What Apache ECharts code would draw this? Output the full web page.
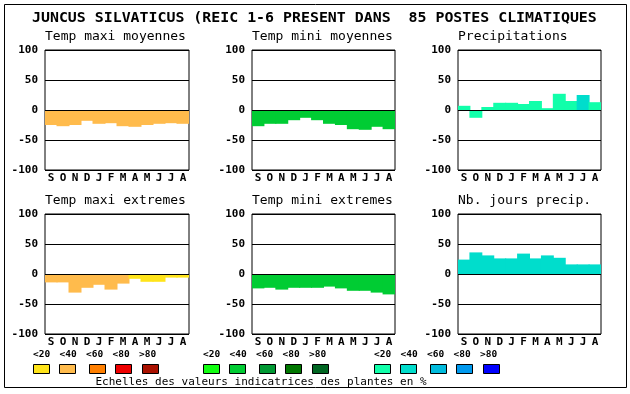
<!DOCTYPE html>
<html>
<head>
<meta charset="utf-8">
<script src="https://cdn.jsdelivr.net/npm/echarts@6/dist/echarts.min.js"></script>
<style>
html,body{margin:0;padding:0;background:#fff;}
#c{width:630px;height:394px;}
</style>
</head>
<body>
<div id="c"></div>
<script>
const mainTitle = 'JUNCUS SILVATICUS (REIC 1-6 PRESENT DANS  85 POSTES CLIMATIQUES';
const months = ['S','O','N','D','J','F','M','A','M','J','J','A'];
const yTicks = [-100, -50, 0, 50, 100];
const panelTitles = ['Temp maxi moyennes','Temp mini moyennes','Precipitations','Temp maxi extremes','Temp mini extremes','Nb. jours precip.'];

const tmaxMoy  = [-25,-27,-25,-18,-23,-22,-27,-28,-25,-23,-22,-23];
const tmaxMoyC = [1,1,1,1,1,1,1,1,1,1,1,1];
const tminMoy  = [-27,-23,-23,-17,-13,-17,-23,-25,-32,-33,-28,-32];
const tminMoyC = [1,1,1,1,1,1,1,1,1,1,1,1];
const precip   = [7,-13,5,12,12,10,15,3,27,15,25,13];
const precipC  = [0,0,0,0,0,0,0,0,0,0,1,0];
const tmaxExt  = [-14,-14,-31,-23,-18,-26,-16,-8,-13,-13,-6,-6];
const tmaxExtC = [1,1,1,1,1,1,1,0,0,0,0,0];
const tminExt  = [-24,-23,-26,-23,-23,-23,-21,-24,-28,-28,-31,-34];
const tminExtC = [1,1,1,1,1,1,1,1,1,1,1,1];
const nbJours  = [24,36,31,26,26,34,26,31,27,16,16,16];
const nbJoursC = [1,1,1,1,1,1,1,1,1,1,1,1];

const scaleLabels = ['<20','<40','<60','<80','>80'];
const palTemp = ['#FFE41A','#FFBB4C','#FF7F00','#EE0000','#AA1100'];
const palMin  = ['#11FF11','#00CC33','#009933','#007700','#006622'];
const palPrec = ['#11FFAA','#00DDCC','#00BBDD','#0099EE','#0000FF'];
const footnote = 'Echelles des valeurs indicatrices des plantes en %';

const panels = [
  {v: tmaxMoy, c: tmaxMoyC, pal: palTemp},
  {v: tminMoy, c: tminMoyC, pal: palMin},
  {v: precip,  c: precipC,  pal: palPrec},
  {v: tmaxExt, c: tmaxExtC, pal: palTemp},
  {v: tminExt, c: tminExtC, pal: palMin},
  {v: nbJours, c: nbJoursC, pal: palPrec}
];
const lefts = [45, 252, 458];
const widths = [144, 143, 143];
const tops = [50, 214];
const H = 120;
const mono = 'DejaVu Sans Mono';

const grids = [], xAxes = [], yAxes = [], series = [], titles = [];
titles.push({text: mainTitle, left: 32, top: 11, padding: 0,
  textStyle: {fontFamily: mono, fontSize: 14.9, fontWeight: 'bold', color: '#000'}});
panels.forEach((p, i) => {
  const col = i % 3, row = Math.floor(i / 3);
  grids.push({left: lefts[col], top: tops[row], width: widths[col], height: H,
    show: true, borderColor: '#000', borderWidth: 1, backgroundColor: 'transparent'});
  xAxes.push({type: 'category', gridIndex: i, data: months, boundaryGap: true,
    axisLine: {show: false}, axisTick: {show: false},
    axisLabel: {fontFamily: mono, fontSize: 11, fontWeight: 'bold', color: '#000', margin: 3, interval: 0}});
  yAxes.push({type: 'value', gridIndex: i, min: yTicks[0], max: yTicks[yTicks.length-1], interval: 50,
    axisLine: {show: false}, axisTick: {show: false},
    splitLine: {show: true, lineStyle: {color: '#000', width: 1}},
    axisLabel: {fontFamily: mono, fontSize: 11, fontWeight: 'bold', color: '#000', margin: 7}});
  series.push({type: 'bar', xAxisIndex: i, yAxisIndex: i, barWidth: widths[col] / months.length + 1, barCategoryGap: 0,
    silent: true, animation: false,
    data: p.v.map((v, k) => ({value: v, itemStyle: {color: p.pal[p.c[k]], borderWidth: 0}})),
    markLine: {silent: true, symbol: 'none', animation: false, label: {show: false},
      lineStyle: {color: '#000', width: 1, type: 'solid'}, data: [{yAxis: 0}]}});
  titles.push({text: panelTitles[i], left: lefts[col], top: tops[row] - 20, padding: 0,
    textStyle: {fontFamily: mono, fontSize: 13, fontWeight: 'normal', color: '#000'}});
});

const graphics = [];
graphics.push({type: 'rect', shape: {x: 4.5, y: 4.5, width: 622, height: 383},
  style: {fill: 'none', stroke: '#000', lineWidth: 1}, silent: true});
const groupStarts = [33, 203, 374];
const swatchOffsets = [0, 26, 56, 82, 109];
const labelOffsets = [0, 26.5, 53, 79.5, 106];
[palTemp, palMin, palPrec].forEach((pal, g) => {
  pal.forEach((color, k) => {
    const x = groupStarts[g] + swatchOffsets[k];
    graphics.push({type: 'rect', shape: {x: x + 0.5, y: 364.5, width: 16, height: 9},
      style: {fill: color, stroke: '#000', lineWidth: 1}, silent: true});
    graphics.push({type: 'text', x: groupStarts[g] + labelOffsets[k], y: 354.5,
      style: {text: scaleLabels[k], fontFamily: mono, fontSize: 9.5, fontWeight: 'bold', fill: '#000',
        align: 'left', verticalAlign: 'middle'}, silent: true});
  });
});
graphics.push({type: 'text', x: 261, y: 382,
  style: {text: footnote, fontFamily: mono, fontSize: 11, fill: '#000', align: 'center', verticalAlign: 'middle'}, silent: true});

const chart = echarts.init(document.getElementById('c'), null, {renderer: 'canvas'});
chart.setOption({
  animation: false,
  backgroundColor: '#fff',
  title: titles,
  grid: grids,
  xAxis: xAxes,
  yAxis: yAxes,
  series: series,
  graphic: graphics
});
</script>
</body>
</html>
